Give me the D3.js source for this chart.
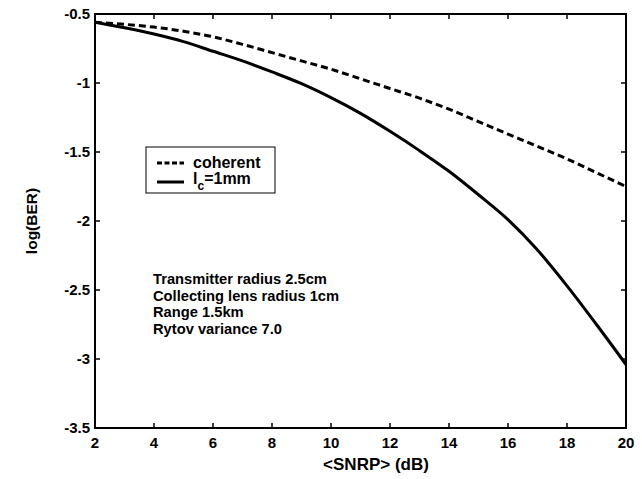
<!DOCTYPE html>
<html>
<head>
<meta charset="utf-8">
<script src="https://cdn.jsdelivr.net/npm/d3@7"></script>
<style>
  body { margin: 0; background: #fff; }
  text { font-family: Arial, "Liberation Sans", sans-serif; fill: #000; }
</style>
</head>
<body>
<div class="svg-container"></div>
<script>
// data
const snrp = [2, 3, 4, 5, 6, 7, 8, 9, 10, 11, 12, 13, 14, 15, 16, 17, 18, 19, 20];
const coherent = [-0.56, -0.575, -0.595, -0.625, -0.665, -0.72, -0.78, -0.84, -0.90, -0.97, -1.04, -1.11, -1.19, -1.28, -1.37, -1.46, -1.55, -1.65, -1.75];
const lc1mm = [-0.56, -0.60, -0.645, -0.70, -0.77, -0.84, -0.92, -1.005, -1.106, -1.22, -1.35, -1.49, -1.64, -1.81, -1.99, -2.21, -2.47, -2.75, -3.04];
const xTicks = [2, 4, 6, 8, 10, 12, 14, 16, 18, 20];
const yTicks = [-0.5, -1, -1.5, -2, -2.5, -3, -3.5];
const notes = ['Transmitter radius 2.5cm', 'Collecting lens radius 1cm', 'Range 1.5km', 'Rytov variance 7.0'];

const width = 642;
const height = 479;
const margin = { top: 14, right: 16, bottom: 51, left: 95 };
const innerW = width - margin.left - margin.right;
const innerH = height - margin.top - margin.bottom;
const tickLen = 5;

const svg = d3.select('.svg-container')
  .append('svg')
  .attr('width', width)
  .attr('height', height);

const x = d3.scaleLinear().domain([2, 20]).range([margin.left, margin.left + innerW]);
const y = d3.scaleLinear().domain([-3.5, -0.5]).range([margin.top + innerH, margin.top]);

const left = x(2), right = x(20);
const bottomY = y(-3.5), topY = y(-0.5);

// tick labels
svg.append('g').selectAll('text')
  .data(xTicks)
  .enter()
  .append('text')
  .attr('x', d => x(d))
  .attr('y', bottomY + 20)
  .attr('text-anchor', 'middle')
  .style('font-size', '15px')
  .style('font-weight', 'bold')
  .text(d => d);

svg.append('g').selectAll('text')
  .data(yTicks)
  .enter()
  .append('text')
  .attr('x', left - 5)
  .attr('y', d => y(d) + 5)
  .attr('text-anchor', 'end')
  .style('font-size', '15px')
  .style('font-weight', 'bold')
  .text(d => String(d));

// frame as filled bars
const frame = svg.append('g').attr('fill', '#000');
frame.append('rect').attr('x', left - 1).attr('y', topY - 1).attr('width', right - left + 2).attr('height', 2);
frame.append('rect').attr('x', left - 1).attr('y', bottomY - 1).attr('width', right - left + 2).attr('height', 2);
frame.append('rect').attr('x', left - 1).attr('y', topY - 1).attr('width', 2).attr('height', bottomY - topY + 2);
frame.append('rect').attr('x', right - 1).attr('y', topY - 1).attr('width', 2).attr('height', bottomY - topY + 2);

// inward ticks on all four sides
xTicks.forEach(d => {
  frame.append('rect').attr('x', x(d) - 0.75).attr('y', bottomY - tickLen).attr('width', 1.5).attr('height', tickLen);
  frame.append('rect').attr('x', x(d) - 0.75).attr('y', topY).attr('width', 1.5).attr('height', tickLen);
});
yTicks.forEach(d => {
  frame.append('rect').attr('x', left).attr('y', y(d) - 0.75).attr('width', tickLen).attr('height', 1.5);
  frame.append('rect').attr('x', right - tickLen).attr('y', y(d) - 0.75).attr('width', tickLen).attr('height', 1.5);
});

// curves
const line = d3.line()
  .x((d, i) => x(snrp[i]))
  .y(d => y(d))
  .curve(d3.curveMonotoneX);

svg.append('path')
  .datum(coherent)
  .attr('d', line)
  .attr('fill', 'none')
  .attr('stroke', '#000')
  .attr('stroke-width', 3)
  .attr('stroke-dasharray', '7,4');

svg.append('path')
  .datum(lc1mm)
  .attr('d', line)
  .attr('fill', 'none')
  .attr('stroke', '#000')
  .attr('stroke-width', 3);

// legend
const legend = svg.append('g');
legend.append('rect')
  .attr('x', 146).attr('y', 147)
  .attr('width', 129).attr('height', 46)
  .attr('fill', '#fff')
  .attr('stroke', '#000')
  .attr('stroke-width', 1);
legend.append('line')
  .attr('x1', 157).attr('x2', 184).attr('y1', 163).attr('y2', 163)
  .attr('stroke', '#000').attr('stroke-width', 3).attr('stroke-dasharray', '5,2.5');
legend.append('line')
  .attr('x1', 157).attr('x2', 184).attr('y1', 182).attr('y2', 182)
  .attr('stroke', '#000').attr('stroke-width', 3);
legend.append('text')
  .attr('x', 193).attr('y', 168)
  .style('font-size', '16px').style('font-weight', 'bold')
  .text('coherent');
const lt = legend.append('text')
  .attr('x', 193).attr('y', 184)
  .style('font-size', '16px').style('font-weight', 'bold');
lt.append('tspan').text('l');
lt.append('tspan').attr('dy', 6).style('font-size', '12px').text('c');
lt.append('tspan').attr('dy', -6).text('=1mm');

// annotation
svg.append('g').selectAll('text')
  .data(notes)
  .enter()
  .append('text')
  .attr('x', 153)
  .attr('y', (d, i) => 284 + i * 16.7)
  .style('font-size', '14.7px')
  .style('font-weight', 'bold')
  .text(d => d);

// axis labels
svg.append('text')
  .attr('x', 376)
  .attr('y', 470)
  .attr('text-anchor', 'middle')
  .style('font-size', '17px')
  .style('font-weight', 'bold')
  .text('<SNRP> (dB)');

svg.append('text')
  .attr('transform', `translate(37,${margin.top + innerH / 2}) rotate(-90)`)
  .attr('text-anchor', 'middle')
  .style('font-size', '15.5px')
  .style('font-weight', 'bold')
  .text('log(BER)');
</script>
</body>
</html>
